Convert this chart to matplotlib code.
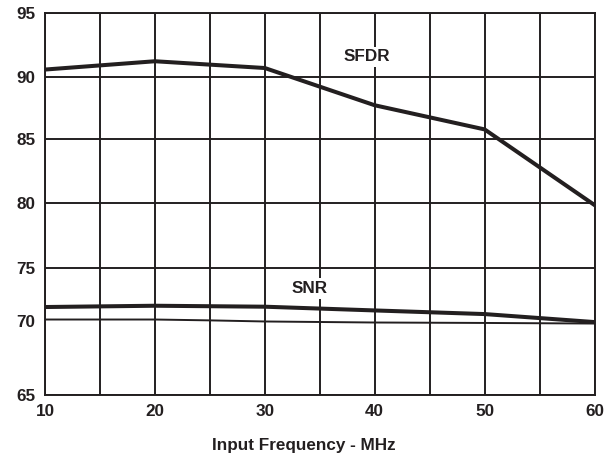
import numpy as np
import matplotlib
matplotlib.use('Agg')
import matplotlib.pyplot as plt

freq = [10, 20, 30, 40, 50, 60]
sfdr = [90.55, 91.2, 90.67, 87.72, 85.8, 79.87]
snr = [71.34, 71.46, 71.37, 71.02, 70.68, 69.95]
snr_low_x = [10, 20, 25, 30, 40, 50, 60]
snr_low = [70.17, 70.17, 70.09, 69.99, 69.92, 69.89, 69.85]

yticks = [65, 70, 75, 80, 85, 90, 95]
xticks = [10, 20, 30, 40, 50, 60]

# the original y axis is not evenly spaced, so map it piecewise
ypix = np.array([0, 73.5, 127, 191.7, 255.7, 318.7, 382.7])
yv = np.array(yticks, dtype=float)

def fwd(v):
    return np.interp(v, yv, ypix, left=np.nan, right=np.nan)

def inv(t):
    return np.interp(t, ypix, yv)

ink = '#231f20'
fs = 12.3
plt.rcParams['font.family'] = ['Liberation Sans', 'DejaVu Sans']
plt.rcParams['font.weight'] = 'bold'

fig = plt.figure(figsize=(6.06, 4.55), dpi=100)
ax = fig.add_axes([45/606, 1-394.7/455, 549.5/606, 382/455])
ax.set_yscale('function', functions=(fwd, inv))
ax.set_xlim(10, 60)
ax.set_ylim(65, 95)

ax.set_xticks(np.arange(10, 61, 5))
ax.set_xticklabels([str(v) if v in xticks else '' for v in range(10, 61, 5)])
ax.set_yticks(yticks)
ax.set_yticklabels([str(v) for v in yticks])
ax.tick_params(length=0, labelsize=fs, colors=ink)
ax.tick_params(axis='x', pad=7)
ax.tick_params(axis='y', pad=7)
ax.grid(True, color=ink, lw=1.4)
ax.yaxis.get_gridlines()[1].set_visible(False)
for sp in ax.spines.values():
    sp.set_color(ink)
    sp.set_linewidth(1.4)

ax.plot(freq, sfdr, color=ink, lw=2.9, zorder=3)
ax.plot(freq, snr, color=ink, lw=2.9, zorder=3)
ax.plot(snr_low_x, snr_low, color=ink, lw=1.4, zorder=3)

box = dict(facecolor='white', edgecolor='none', pad=2)
ax.text(39.3, 91.55, 'SFDR', ha='center', va='center', fontsize=fs,
        fontweight='bold', color=ink, bbox=box, zorder=4)
ax.text(34.1, 73.07, 'SNR', ha='center', va='center', fontsize=fs,
        fontweight='bold', color=ink, bbox=box, zorder=4)

ax.set_xlabel('Input Frequency - MHz', fontsize=fs, fontweight='bold',
              color=ink)
ax.xaxis.set_label_coords(0.471, -0.113)

fig.savefig('out.png', dpi=100)
